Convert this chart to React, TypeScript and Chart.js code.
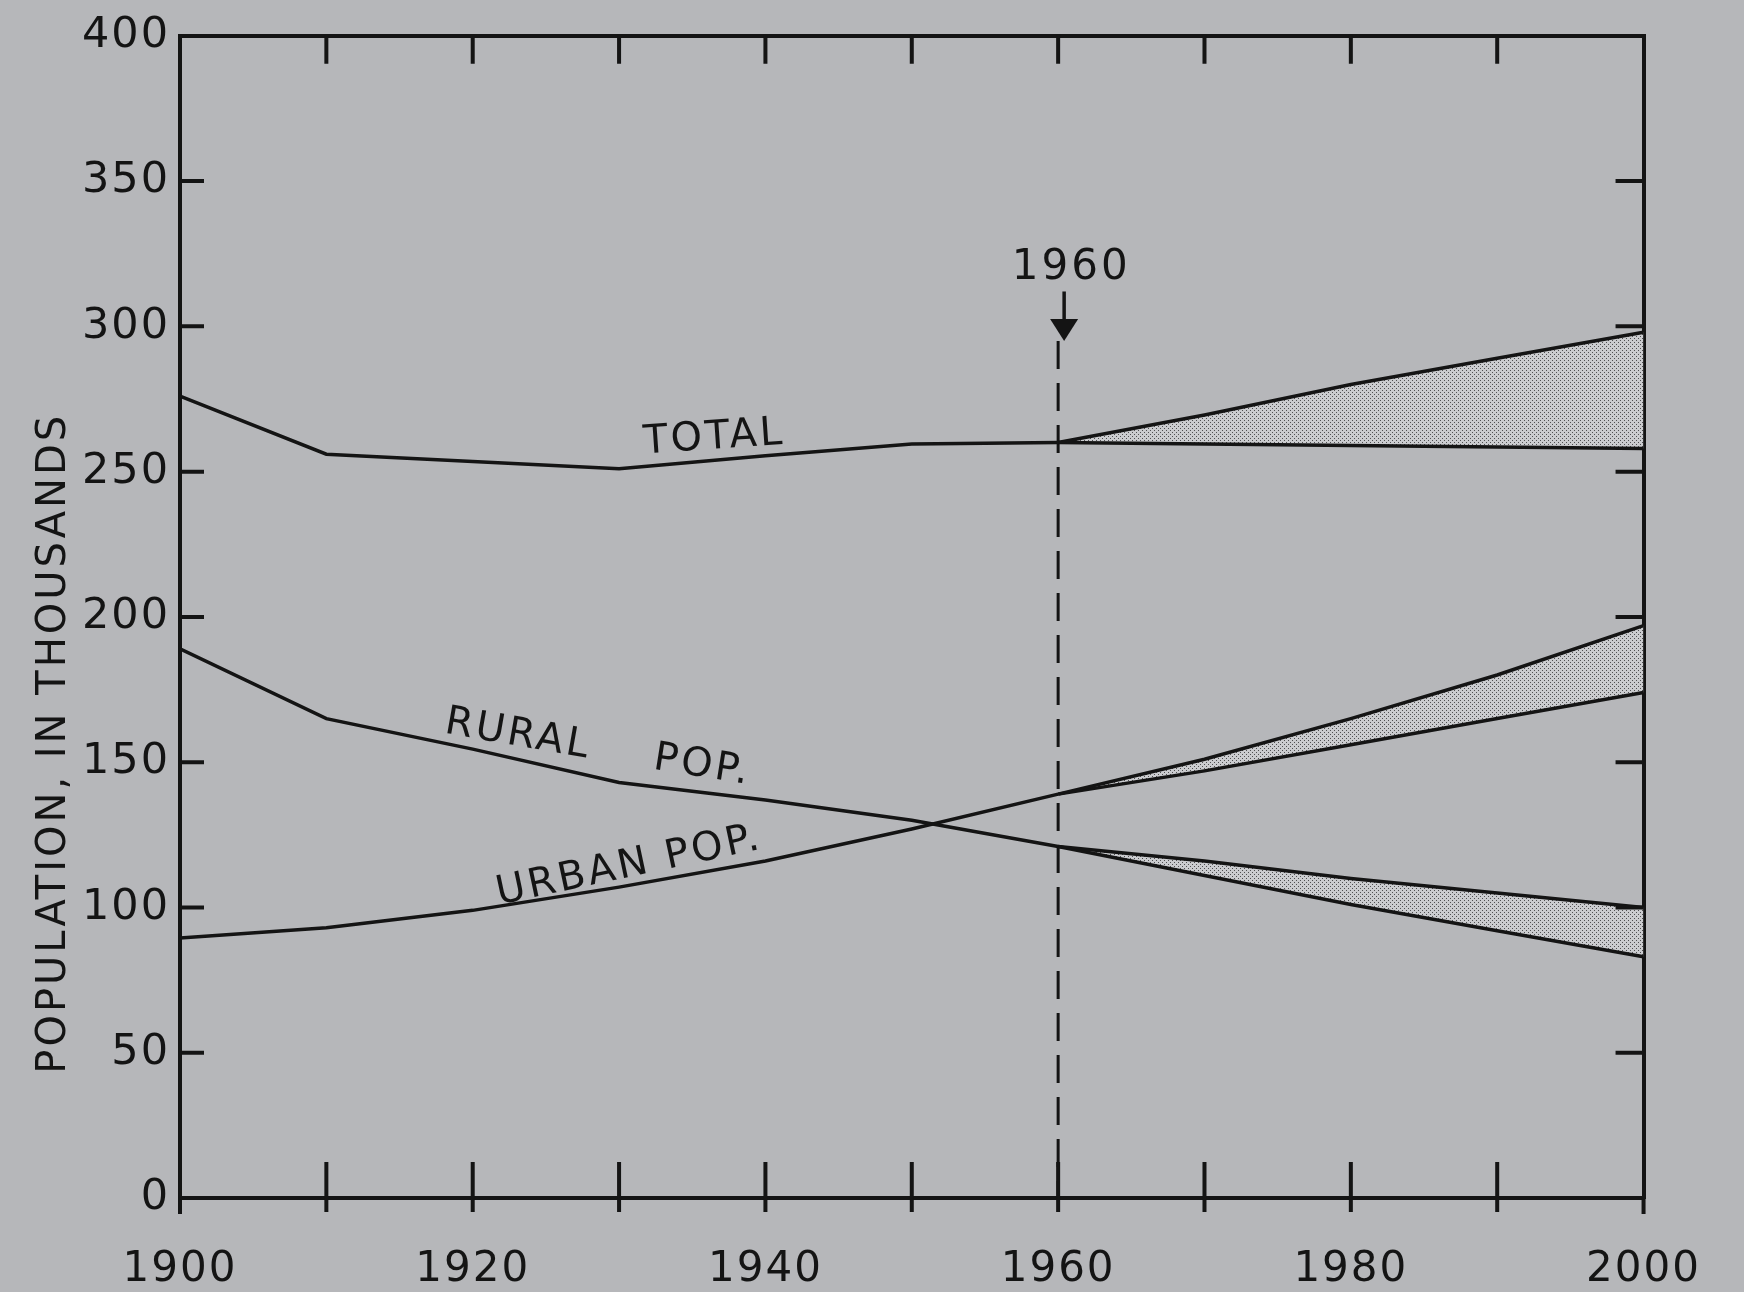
import React, { useEffect, useRef } from 'react';
import { Chart, registerables } from 'chart.js';

Chart.register(...registerables);

// ---- data (population, thousands) ----
const histYears = [1900, 1910, 1920, 1930, 1940, 1950, 1960];
const totalHist = [276, 256, 253.5, 251, 255.5, 259.5, 260];
const ruralHist = [189, 165, 154.5, 143, 137, 130, 121];
const urbanHist = [89.5, 93, 99, 107, 116, 127, 139];

const projYears = [1960, 1970, 1980, 1990, 2000];
const totalHigh = [260, 269.5, 280, 289, 298];
const totalLow = [260, 259.5, 259, 258.5, 258];
const ruralHigh = [121, 116, 110, 105, 100];
const ruralLow = [121, 111, 101, 92, 83];
const urbanHigh = [139, 151, 165, 180, 197];
const urbanLow = [139, 147, 156, 165, 174];

const markerYear = 1960;
const markerTop = 295;

const yInnerTicks = [50, 100, 150, 200, 250, 300, 350];
const xInnerTicks = [1910, 1920, 1930, 1940, 1950, 1960, 1970, 1980, 1990];
const xEndTicks = [1900, 2000];

const yTitle = 'POPULATION, IN THOUSANDS';
const yTitleCenterValue = 156.5;

const seriesLabels = [
  { text: 'TOTAL', x: 1936.5, y: 261.5, rot: -4 },
  { text: 'RURAL', x: 1923.1, y: 159.3, rot: 10 },
  { text: 'POP.', x: 1935.7, y: 148.6, rot: 9 },
  { text: 'URBAN POP.', x: 1930.7, y: 114.2, rot: -12 },
];
const markerLabel = { text: '1960', x: 1960.9, y: 320 };

// ---- style ----
const BG = '#b6b7ba';
const INK = '#141414';
const FONT = '"DejaVu Sans", sans-serif';

function pts(xs: number[], ys: number[]) {
  return xs.map((x, i) => ({ x, y: ys[i] }));
}

export default function App() {
  const ref = useRef<HTMLCanvasElement | null>(null);

  useEffect(() => {
    const canvas = ref.current;
    if (!canvas) return;
    const ctx = canvas.getContext('2d') as CanvasRenderingContext2D;

    const tile = document.createElement('canvas');
    tile.width = 4;
    tile.height = 4;
    const tg = tile.getContext('2d') as CanvasRenderingContext2D;
    tg.fillStyle = '#cbcccf';
    tg.fillRect(0, 0, 4, 4);
    tg.fillStyle = '#505052';
    tg.fillRect(0, 0, 1, 1);
    tg.fillRect(2, 2, 1, 1);
    const stipple = ctx.createPattern(tile, 'repeat') as CanvasPattern;

    const line = (data: any[], extra: any = {}) => ({
      data,
      borderColor: INK,
      borderWidth: 3.5,
      pointRadius: 0,
      tension: 0,
      fill: false,
      xAxisID: 'x',
      yAxisID: 'y',
      ...extra,
    });

    const decor = {
      id: 'decor',
      beforeDraw(chart: any) {
        const c = chart.ctx;
        c.save();
        c.fillStyle = BG;
        c.fillRect(0, 0, chart.width, chart.height);
        c.restore();
        (c as any).letterSpacing = '2px';
      },
      afterDraw(chart: any) {
        const c = chart.ctx as CanvasRenderingContext2D;
        const a = chart.chartArea;
        const xs = chart.scales.x;
        const ys = chart.scales.y;
        c.save();
        (c as any).letterSpacing = '0px';
        c.strokeStyle = INK;
        c.fillStyle = INK;
        c.lineWidth = 4;
        c.lineCap = 'butt';
        c.beginPath();
        for (const v of yInnerTicks) {
          const py = ys.getPixelForValue(v);
          c.moveTo(a.left, py);
          c.lineTo(a.left + 24, py);
          c.moveTo(a.right, py);
          c.lineTo(a.right - 28, py);
        }
        for (const yr of xInnerTicks) {
          const px = xs.getPixelForValue(yr);
          c.moveTo(px, a.top);
          c.lineTo(px, a.top + 28);
          c.moveTo(px, a.bottom - 36);
          c.lineTo(px, a.bottom + 14);
        }
        for (const yr of xEndTicks) {
          const px = xs.getPixelForValue(yr);
          c.moveTo(px, a.bottom);
          c.lineTo(px, a.bottom + 16);
        }
        c.stroke();

        // arrow above the 1960 marker
        const ax = xs.getPixelForValue(markerYear) + 6;
        const yTopA = ys.getPixelForValue(312);
        const yBase = ys.getPixelForValue(302.5);
        const yTip = ys.getPixelForValue(markerTop);
        c.lineWidth = 3.5;
        c.beginPath();
        c.moveTo(ax, yTopA);
        c.lineTo(ax, yBase + 2);
        c.stroke();
        c.beginPath();
        c.moveTo(ax - 14, yBase);
        c.lineTo(ax + 14, yBase);
        c.lineTo(ax, yTip);
        c.closePath();
        c.fill();

        // texts
        (c as any).letterSpacing = '3px';
        c.textAlign = 'center';
        c.textBaseline = 'middle';
        c.font = `40px ${FONT}`;
        for (const l of seriesLabels) {
          c.save();
          c.translate(xs.getPixelForValue(l.x), ys.getPixelForValue(l.y));
          c.rotate((l.rot * Math.PI) / 180);
          c.fillText(l.text, 0, 0);
          c.restore();
        }
        c.font = `42px ${FONT}`;
        c.fillText(markerLabel.text, xs.getPixelForValue(markerLabel.x), ys.getPixelForValue(markerLabel.y));

        c.save();
        c.font = `40px ${FONT}`;
        c.translate(55, ys.getPixelForValue(yTitleCenterValue));
        c.rotate(-Math.PI / 2);
        c.fillText(yTitle, 0, 0);
        c.restore();

        c.restore();
        (c as any).letterSpacing = '0px';
      },
    };

    const border = { display: true, color: INK, width: 4 };
    const noGrid = { display: false, drawTicks: false };

    const chart = new Chart(ctx, {
      type: 'line',
      data: {
        datasets: [
          line(pts(histYears, totalHist)),
          line(pts(projYears, totalHigh), { fill: '+1', backgroundColor: stipple }),
          line(pts(projYears, totalLow)),
          line(pts(histYears, ruralHist)),
          line(pts(projYears, ruralHigh), { fill: '+1', backgroundColor: stipple }),
          line(pts(projYears, ruralLow)),
          line(pts(histYears, urbanHist)),
          line(pts(projYears, urbanHigh), { fill: '+1', backgroundColor: stipple }),
          line(pts(projYears, urbanLow)),
          line(
            [
              { x: markerYear, y: markerTop },
              { x: markerYear, y: 0 },
            ],
            { borderDash: [28, 14], borderWidth: 3 }
          ),
        ] as any,
      },
      options: {
        animation: false,
        responsive: false,
        maintainAspectRatio: false,
        events: [],
        layout: { padding: 0 },
        plugins: {
          legend: { display: false },
          tooltip: { enabled: false },
          title: { display: false },
          filler: { drawTime: 'beforeDatasetsDraw' },
        } as any,
        scales: {
          x: {
            type: 'linear',
            position: 'bottom',
            min: 1900,
            max: 2000,
            ticks: {
              stepSize: 20,
              autoSkip: false,
              maxRotation: 0,
              padding: 47,
              color: INK,
              font: { family: FONT, size: 42 },
              callback: (v: any) => String(v),
            },
            grid: noGrid,
            border,
            afterFit: (s: any) => {
              s.height = 94;
            },
          },
          y: {
            type: 'linear',
            position: 'left',
            min: 0,
            max: 400,
            ticks: {
              stepSize: 50,
              padding: 10,
              color: INK,
              font: { family: FONT, size: 43 },
              callback: (v: any) => String(v),
            },
            grid: noGrid,
            border,
            afterFit: (s: any) => {
              s.width = 180;
            },
          },
          xTop: {
            type: 'linear',
            position: 'top',
            min: 1900,
            max: 2000,
            ticks: { display: false },
            grid: noGrid,
            border,
            afterFit: (s: any) => {
              s.height = 33;
            },
          },
          yRight: {
            type: 'linear',
            position: 'right',
            min: 0,
            max: 400,
            ticks: { display: false },
            grid: noGrid,
            border,
            afterFit: (s: any) => {
              s.width = 98;
            },
          },
        } as any,
      },
      plugins: [decor],
    });

    return () => chart.destroy();
  }, []);

  return (
    <div style={{ position: 'fixed', left: 0, top: 0, width: 1744, height: 1292, background: BG }}>
      <canvas ref={ref} width={1744} height={1292} style={{ display: 'block' }} />
    </div>
  );
}
